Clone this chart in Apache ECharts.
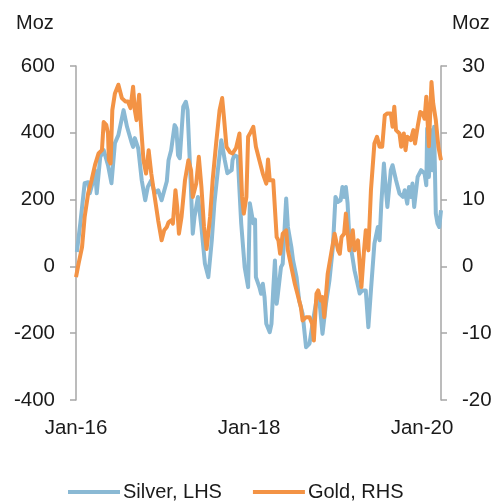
<!DOCTYPE html>
<html>
<head>
<meta charset="utf-8">
<script src="https://cdn.jsdelivr.net/npm/echarts@6/dist/echarts.min.js"></script>
<style>
  html, body { margin: 0; padding: 0; background: #fff; }
  #chart { width: 496px; height: 502px; }
</style>
</head>
<body>
<div id="chart"></div>
<script>
// x positions are years after Jan-16
const silverT = [0.01,0.05,0.10,0.14,0.16,0.20,0.22,0.24,0.28,0.32,
  0.37,0.41,0.45,0.49,0.55,0.59,0.64,0.66,0.68,0.72,
  0.76,0.80,0.83,0.87,0.91,0.95,0.99,1.05,1.07,1.10,
  1.14,1.16,1.18,1.20,1.24,1.27,1.29,1.32,1.35,1.37,
  1.41,1.45,1.49,1.53,1.57,1.60,1.64,1.68,1.72,1.75,
  1.80,1.81,1.83,1.87,1.91,1.95,1.99,2.01,2.05,2.07,
  2.08,2.12,2.14,2.16,2.18,2.20,2.24,2.26,2.28,2.30,
  2.32,2.33,2.37,2.39,2.43,2.45,2.49,2.51,2.55,2.58,
  2.62,2.66,2.70,2.74,2.78,2.81,2.85,2.89,2.93,2.97,
  3.00,3.03,3.06,3.08,3.10,3.12,3.14,3.16,3.22,3.28,
  3.31,3.35,3.38,3.41,3.45,3.49,3.51,3.53,3.56,3.58,
  3.60,3.64,3.66,3.70,3.74,3.78,3.80,3.83,3.85,3.87,
  3.89,3.91,3.95,3.99,4.03,4.05,4.06,4.08,4.11,4.12,
  4.14,4.16,4.18,4.20,4.22]
const silver = [43,129,249,252,219,258,288,219,327,348,
  303,249,369,393,468,418,373,358,384,353,
  258,198,238,258,219,228,198,255,318,348,
  423,414,333,324,478,493,468,288,98,148,
  208,118,9,-32,78,189,288,378,318,279,
  288,318,333,328,129,-2,-62,189,129,140,
  -32,-62,-82,-52,-92,-172,-197,-172,-72,18,
  -112,-92,-2,8,203,118,58,18,-32,-102,
  -142,-242,-231,-162,-102,-92,-202,-112,-42,58,
  208,193,198,238,208,238,189,88,-12,-81,
  -72,-72,-182,-72,68,118,78,188,308,238,
  178,288,303,258,218,208,228,188,238,208,
  248,178,268,288,278,243,413,268,408,288,
  418,158,128,118,168]

const goldT = [0.00,0.03,0.07,0.10,0.14,0.18,0.22,0.26,0.30,0.32,
  0.35,0.37,0.38,0.40,0.42,0.45,0.49,0.53,0.57,0.60,
  0.63,0.66,0.68,0.70,0.73,0.75,0.78,0.81,0.84,0.87,
  0.91,0.95,0.99,1.02,1.05,1.07,1.10,1.12,1.15,1.17,
  1.19,1.22,1.26,1.30,1.33,1.35,1.39,1.42,1.45,1.48,
  1.51,1.55,1.58,1.62,1.66,1.69,1.71,1.74,1.78,1.81,
  1.85,1.89,1.92,1.94,1.97,1.99,2.02,2.05,2.08,2.12,
  2.16,2.20,2.22,2.24,2.28,2.32,2.34,2.36,2.39,2.43,
  2.45,2.49,2.53,2.56,2.60,2.62,2.66,2.70,2.73,2.75,
  2.78,2.80,2.83,2.85,2.87,2.91,2.95,2.99,3.03,3.05,
  3.07,3.10,3.12,3.16,3.20,3.22,3.26,3.30,3.33,3.35,
  3.38,3.41,3.45,3.48,3.51,3.54,3.57,3.60,3.64,3.66,
  3.68,3.70,3.74,3.76,3.79,3.81,3.83,3.87,3.90,3.92,
  3.95,3.98,4.01,4.03,4.05,4.08,4.11,4.13,4.16,4.19,
  4.22]
const gold = [-1.6,0.4,2.9,7.4,10.9,12.9,15.2,16.9,17.4,21.6,
  21.2,19.9,15.9,15.4,23.4,25.9,27.2,25.2,24.7,24.7,
  23.7,26.9,23.4,21.9,25.7,21.4,15.9,13.9,17.4,13.9,
  10.4,6.9,3.9,5.4,5.9,6.6,6.9,6.4,11.4,8.9,
  4.9,7.4,12.9,15.9,14.4,10.4,12.4,16.4,11.9,5.9,
  2.6,7.4,12.9,18.4,23.4,25.2,22.4,17.9,17.1,16.9,
  17.7,19.9,10.4,7.9,10.4,19.4,20.1,20.9,17.9,15.9,
  13.9,12.4,16.0,12.9,12.9,4.4,3.9,1.9,4.9,5.4,
  2.4,-0.1,-2.6,-4.1,-6.1,-8.1,-7.6,-7.6,-8.6,-11.1,
  -4.1,-3.6,-5.1,-4.6,-7.6,-1.1,1.9,4.9,2.4,1.9,
  4.4,4.9,7.9,2.4,5.4,2.4,3.9,-3.1,2.4,5.4,
  2.4,11.4,18.4,19.4,17.9,17.9,22.6,22.9,22.9,20.9,
  23.9,20.4,19.9,17.9,19.9,17.4,19.4,18.9,20.4,18.4,
  20.9,23.1,22.9,22.1,25.4,18.0,27.6,24.4,21.9,17.9,
  15.9]

const seriesNames = ['Silver, LHS', 'Gold, RHS']
const startYear = 2016

const textColor = '#1a1a1a'
const axisColor = '#a6a6a6'
const font = 'Liberation Sans, Arial, sans-serif'

const chart = echarts.init(document.getElementById('chart'))

const yAxisBase = {
  type: 'value',
  axisLine: { show: true, lineStyle: { color: axisColor, width: 1.5 } },
  axisTick: { show: true, length: 6, lineStyle: { color: axisColor, width: 1.5 } },
  splitLine: { show: false },
  axisLabel: { color: textColor, fontSize: 20.5, fontFamily: font, margin: 21 },
}

chart.setOption({
  animation: false,
  backgroundColor: '#fff',
  grid: { left: 76, right: 55, top: 66, bottom: 102 },
  graphic: [
    { type: 'text', left: 16, top: 13, style: { text: 'Moz', fill: textColor, fontSize: 20, fontFamily: font } },
    { type: 'text', left: 452, top: 13, style: { text: 'Moz', fill: textColor, fontSize: 20, fontFamily: font } },
  ],
  legend: {
    left: 68,
    top: 482,
    padding: 0,
    itemGap: 31,
    itemWidth: 52,
    itemHeight: 4,
    icon: 'rect',
    textStyle: { color: textColor, fontSize: 20, fontFamily: font, padding: [0, 0, 0, -2] },
    data: seriesNames,
  },
  xAxis: {
    type: 'value',
    min: 2016,
    max: 2020.22,
    interval: 2,
    axisLine: { show: false },
    axisTick: { show: false },
    splitLine: { show: false },
    axisLabel: {
      color: textColor,
      fontSize: 20.5,
      fontFamily: font,
      margin: 18,
      showMaxLabel: false,
      formatter: v => 'Jan-' + String(Math.round(v)).slice(2),
    },
  },
  yAxis: [
    Object.assign({}, yAxisBase, { min: -400, max: 600, interval: 200, position: 'left' }),
    Object.assign({}, yAxisBase, { min: -20, max: 30, interval: 10, position: 'right' }),
  ],
  series: [
    {
      name: seriesNames[0],
      type: 'line',
      yAxisIndex: 0,
      showSymbol: false,
      color: '#8ab9d4',
      lineStyle: { width: 4, join: 'round' },
      data: silverT.map((t, i) => [startYear + t, silver[i]]),
    },
    {
      name: seriesNames[1],
      type: 'line',
      yAxisIndex: 1,
      showSymbol: false,
      color: '#f39345',
      lineStyle: { width: 4, join: 'round' },
      data: goldT.map((t, i) => [startYear + t, gold[i]]),
    },
  ],
})
</script>
</body>
</html>
